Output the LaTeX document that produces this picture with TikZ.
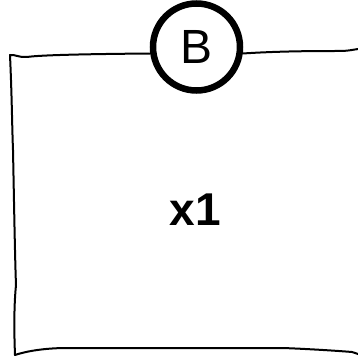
\documentclass[tikz,border=0pt]{standalone}
\usepackage{fontspec}
\setmainfont{Liberation Sans}
\usetikzlibrary{positioning, calc}

\tikzset{
  sketchline/.style={line width=2pt, line cap=round, line join=round},
  portcircle/.style={circle, draw, line width=6.5pt, fill=white, minimum size=87pt,
    inner sep=0pt, font=\fontsize{48}{52}\selectfont},
  boxlabel/.style={font=\fontsize{46}{50}\selectfont\bfseries, anchor=base},
}

\begin{document}
\begin{tikzpicture}[x=1pt, y=-1pt]
  \useasboundingbox (0,0) rectangle (358,358);

  % === port on the top edge ===
  \node[portcircle] (port) at (196.5,47) {B};

  % === sketched box ===
  \draw[sketchline] (port.188) .. controls (90,54) and (40,55) .. (27,57)
    .. controls (20,58) and (14,54) .. (10,55)
    .. controls (12,100) and (12,125) .. (13,150)
    .. controls (14,200) and (15,260) .. (16,285)
    .. controls (14,305) and (14,330) .. (15,355)
    .. controls (30,350) and (50,348) .. (67,348)
    -- (283,348)
    .. controls (310,349) and (340,351) .. (352,352)
    .. controls (356,353) and (362,356) .. (366,356)
    -- (366,48);
  \draw[sketchline] (port.352) .. controls (280,51) and (320,51) .. (340,51)
    .. controls (350,51) and (355,49) .. (366,48);

  % === label ===
  \node[boxlabel] (name) at (195.5,225) {x1};
\end{tikzpicture}
\end{document}
